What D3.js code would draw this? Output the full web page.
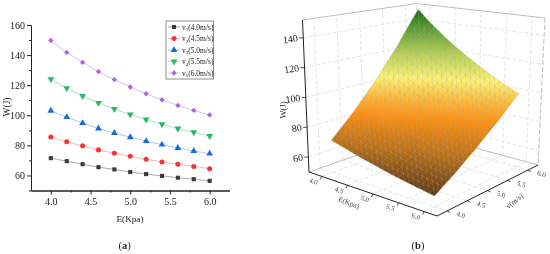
<!DOCTYPE html>
<html lang="en">
<head>
<meta charset="UTF-8">
<script src="https://cdn.jsdelivr.net/npm/d3@7"></script>
<style>
    html, body { margin: 0; padding: 0; background: #fff; }
    svg { display: block; filter: blur(0.3px); }
    text { font-family: "Liberation Serif", serif; fill: #222; }
</style>
</head>
<body>
<div id="chart"></div>
<script>
// values
const energy = [4.0, 4.2, 4.4, 4.6, 4.8, 5.0, 5.2, 5.4, 5.6, 5.8, 6.0];
const v1 = [71.5, 69.5, 67.5, 65.5, 64.0, 62.3, 60.9, 59.7, 58.5, 57.5, 56.4];
const v2 = [85.6, 82.4, 79.7, 77.0, 74.8, 72.7, 70.8, 69.0, 67.5, 66.0, 64.5];
const v3 = [103.0, 98.8, 94.8, 91.2, 88.2, 85.4, 82.8, 80.5, 78.3, 76.3, 74.5];
const v4 = [124.0, 118.0, 112.8, 108.2, 104.2, 100.5, 97.2, 94.0, 91.2, 88.7, 86.2];
const v5 = [149.7, 141.8, 135.2, 129.0, 123.7, 118.8, 114.3, 110.3, 106.5, 103.2, 100.2];
const speeds = [4.0, 4.5, 5.0, 5.5, 6.0];
const speedLabels = ["(4.0m/s)", "(4.5m/s)", "(5.0m/s)", "(5.5m/s)", "(6.0m/s)"];
const markColors = ["#3a3a3a", "#f5333a", "#1769e0", "#25b868", "#a763e6"];
const lineColors = ["#a8a8a8", "#fbb4b4", "#a9c8f5", "#a6e3c2", "#d9bdf5"];

const yTicks = [60, 80, 100, 120, 140, 160];
const yMinor = [50, 70, 90, 110, 130, 150];
const xTicks = [4.0, 4.5, 5.0, 5.5, 6.0];
const xMinor = [4.25, 4.75, 5.25, 5.75];
const zTicks = [60, 80, 100, 120, 140];

// surface colour map, W -> colour
const colorW = [56, 70, 85, 95, 106, 120, 138, 150];
const colorC = ["#57300a", "#b4690c", "#ff8a05", "#ffb732", "#fdf36e", "#b9d052", "#4d9424", "#05660c"];

const series = [v1, v2, v3, v4, v5];
const svg = d3.select("#chart").append("svg").attr("width", 550).attr("height", 254);

/*---------------- panel (a) ----------------*/
const x = d3.scaleLinear().domain([3.75, 6.25]).range([31, 229.5]);
const y = d3.scaleLinear().domain([50, 160]).range([190.5, 25]);
const gA = svg.append("g");

const styleAxis = g => {
    g.selectAll("path, line").attr("stroke", "#222").attr("stroke-width", 1);
    g.selectAll("text").attr("font-size", 10).attr("font-family", '"Liberation Serif", serif').attr("fill", "#222");
};
gA.append("g").attr("transform", "translate(31,0)")
    .call(d3.axisLeft(y).tickValues(yTicks).tickSize(4).tickSizeOuter(0).tickPadding(2)).call(styleAxis);
gA.append("g").attr("transform", "translate(31,0)")
    .call(d3.axisLeft(y).tickValues(yMinor).tickSize(2).tickSizeOuter(0).tickFormat("")).call(styleAxis);
gA.append("g").attr("transform", "translate(0,190.5)")
    .call(d3.axisBottom(x).tickValues(xTicks).tickSize(4).tickSizeOuter(0).tickPadding(3).tickFormat(d3.format(".1f"))).call(styleAxis);
gA.append("g").attr("transform", "translate(0,190.5)")
    .call(d3.axisBottom(x).tickValues(xMinor).tickSize(2).tickSizeOuter(0).tickFormat("")).call(styleAxis);

gA.append("text").attr("x", 130).attr("y", 221.5).attr("text-anchor", "middle").attr("font-size", 9.2).text("E(Kpa)");
gA.append("text").attr("transform", "translate(9.5,107) rotate(-90)").attr("text-anchor", "middle").attr("font-size", 9.5).text("W(J)");

const symbols = [
    { type: d3.symbolSquare, size: 17, rot: 0 },
    { type: d3.symbolCircle, size: 20, rot: 0 },
    { type: d3.symbolTriangle, size: 20, rot: 0 },
    { type: d3.symbolTriangle, size: 20, rot: 180 },
    { type: d3.symbolSquare, size: 14, rot: 45 }
];
const line = d3.line().x((d, i) => x(energy[i])).y(d => y(d)).curve(d3.curveCardinal.tension(0.3));

series.forEach((vals, k) => {
    gA.append("path").attr("d", line(vals)).attr("fill", "none").attr("stroke", lineColors[k]).attr("stroke-width", 1);
    gA.selectAll(null).data(vals).enter().append("path")
        .attr("d", d3.symbol().type(symbols[k].type).size(symbols[k].size))
        .attr("transform", (d, i) => `translate(${x(energy[i])},${y(d)}) rotate(${symbols[k].rot})`)
        .attr("fill", markColors[k]);
});

// legend
const legend = gA.append("g").attr("transform", "translate(166,21)");
legend.append("rect").attr("width", 47.5).attr("height", 58)
    .attr("fill", "#fff").attr("stroke", "#8a8a8a").attr("stroke-width", 1);
speeds.forEach((s, k) => {
    const row = legend.append("g").attr("transform", `translate(0,${6 + k * 11.5})`);
    row.append("line").attr("x1", 2).attr("x2", 14).attr("stroke", lineColors[k]);
    row.append("path").attr("d", d3.symbol().type(symbols[k].type).size(symbols[k].size))
        .attr("transform", `translate(8,0) rotate(${symbols[k].rot})`).attr("fill", markColors[k]);
    const t = row.append("text").attr("x", 16).attr("y", 2.5).attr("font-size", 7.5);
    t.append("tspan").text("v");
    t.append("tspan").attr("font-size", 5).attr("dy", 1.5).text(k + 1);
    t.append("tspan").attr("dy", -1.5).text(speedLabels[k]);
});

/*---------------- panel (b) ----------------*/
// box corners on screen: [E side][v side][W side]
const corner = {
    l0: [309, 172], f0: [437, 216], r0: [538, 165], b0: [420, 133],
    l1: [302.5, 20], f1: [438, 38], r1: [545, 18], b1: [416.7, 3.5]
};
const eUnit = d3.scaleLinear().domain([3.75, 6.25]).range([0, 1]);
const vUnit = d3.scaleLinear().domain([3.75, 6.25]).range([0, 1]);
const zUnit = d3.scaleLinear().domain([50, 152]).range([0, 1]);

// trilinear mapping from the box to the screen
const project = (e, v, w) => {
    const a = eUnit(e), b = vUnit(v), c = zUnit(w);
    const mix = i => {
        const low = (1 - a) * (1 - b) * corner.l0[i] + a * (1 - b) * corner.f0[i] + a * b * corner.r0[i] + (1 - a) * b * corner.b0[i];
        const high = (1 - a) * (1 - b) * corner.l1[i] + a * (1 - b) * corner.f1[i] + a * b * corner.r1[i] + (1 - a) * b * corner.b1[i];
        return (1 - c) * low + c * high;
    };
    return [mix(0), mix(1)];
};
const eMin = 3.75, eMax = 6.25, vMin = 3.75, vMax = 6.25, zMin = 50, zMax = 152;
const path3 = d3.line();
const gB = svg.append("g");

const seg = (a, b, color, width, dash) => gB.append("path").attr("d", path3([a, b])).attr("fill", "none")
    .attr("stroke", color).attr("stroke-width", width).attr("stroke-dasharray", dash || null);

// walls and floor grid
const gridColor = "#dedede";
zTicks.forEach(w => {
    seg(project(eMin, vMin, w), project(eMin, vMax, w), gridColor, 0.8, "4,2");
    seg(project(eMin, vMax, w), project(eMax, vMax, w), gridColor, 0.8, "4,2");
});
xTicks.forEach(t => {
    seg(project(t, vMin, zMin), project(t, vMax, zMin), gridColor, 0.8, "4,2");
    seg(project(t, vMax, zMin), project(t, vMax, zMax), gridColor, 0.8, "4,2");
    seg(project(eMin, t, zMin), project(eMax, t, zMin), gridColor, 0.8, "4,2");
    seg(project(eMin, t, zMin), project(eMin, t, zMax), gridColor, 0.8, "4,2");
});
// back edges of the box
const edgeColor = "#bdbdbd";
seg(corner.l1, corner.b1, edgeColor, 1);
seg(corner.b1, corner.r1, edgeColor, 1);
seg(corner.r1, corner.r0, edgeColor, 1, "5,2");
seg(corner.b1, corner.b0, gridColor, 1);
seg(corner.l0, corner.b0, edgeColor, 1);
seg(corner.b0, corner.r0, edgeColor, 1);

// surface, sampled from the five curves
const rowAt = i => d3.scaleLinear().domain(speeds).range(series.map(s => s[i]));
const columns = energy.map((e, i) => rowAt(i));
const surfaceW = (e, v) => d3.scaleLinear().domain(energy).range(columns.map(c => c(v)))(e);
const color = d3.scaleLinear().domain(colorW).range(colorC).clamp(true);

const fineSteps = d3.range(0, 61).map(i => i / 60);
const meshSteps = d3.range(0, 21).map(i => i / 20);
const eAt = d3.scaleLinear().range([4, 6]);
const vAt = d3.scaleLinear().range([4, 6]);
const surf = (p, q) => project(eAt(p), vAt(q), surfaceW(eAt(p), vAt(q)));

const gSurf = gB.append("g");
for (let i = 0; i < 60; i++) {
    for (let j = 59; j >= 0; j--) {
        const p0 = fineSteps[i], p1 = fineSteps[i + 1], q0 = fineSteps[j], q1 = fineSteps[j + 1];
        const c = color(surfaceW(eAt((p0 + p1) / 2), vAt((q0 + q1) / 2)));
        gSurf.append("path")
            .attr("d", path3([surf(p0, q0), surf(p1, q0), surf(p1, q1), surf(p0, q1)]) + "Z")
            .attr("fill", c).attr("stroke", c).attr("stroke-width", 0.5);
    }
}
// mesh over the surface
const meshLine = pts => gSurf.append("path").attr("d", path3(pts)).attr("fill", "none")
    .attr("stroke", "#a8a8a8").attr("stroke-opacity", 0.5).attr("stroke-width", 0.5);
meshSteps.forEach(m => {
    meshLine(fineSteps.map(f => surf(m, f)));
    meshLine(fineSteps.map(f => surf(f, m)));
});
for (let i = 0; i < 20; i++) {
    for (let j = 0; j < 20; j++) {
        meshLine([surf(meshSteps[i], meshSteps[j + 1]), surf(meshSteps[i + 1], meshSteps[j])]);
    }
}

// front axes
const axisColor = "#222";
seg(corner.l0, corner.f0, axisColor, 1);
seg(corner.f0, corner.r0, axisColor, 1);
seg(corner.l0, corner.l1, axisColor, 1);

xTicks.forEach(t => {
    const pe = project(t, vMin, zMin), pv = project(eMax, t, zMin);
    seg(pe, [pe[0] - 1.5, pe[1] + 3], axisColor, 0.8);
    seg(pv, [pv[0] + 3, pv[1] + 1.5], axisColor, 0.8);
    gB.append("text").attr("transform", `translate(${pe[0] - 9},${pe[1] + 7}) rotate(20)`)
        .attr("text-anchor", "middle").attr("font-size", 7).style("fill", "#444").text(t.toFixed(1));
    gB.append("text").attr("transform", `translate(${pv[0] + 13},${pv[1] + 6}) rotate(18)`)
        .attr("text-anchor", "middle").attr("font-size", 7).style("fill", "#444").text(t.toFixed(1));
});
zTicks.forEach(w => {
    const p = project(eMin, vMin, w);
    seg(p, [p[0] - 4, p[1]], axisColor, 0.8);
    gB.append("text").attr("transform", `translate(${p[0] - 5},${p[1] + 3.5}) rotate(-8)`)
        .attr("text-anchor", "end").attr("font-size", 10).text(w);
});
gB.append("text").attr("transform", "translate(348,205) rotate(21)").attr("text-anchor", "middle").attr("font-size", 7.5).style("fill", "#444").text("E(Kpa)");
gB.append("text").attr("transform", "translate(516,203) rotate(-38)").attr("text-anchor", "middle").attr("font-size", 7.5).style("fill", "#444").text("v(m/s)");
gB.append("text").attr("transform", "translate(286,110) rotate(-90)").attr("text-anchor", "middle").attr("font-size", 8.5).text("W(J)");

// captions
[["a", 124.5], ["b", 418]].forEach(([c, cx]) => {
    const t = svg.append("text").attr("x", cx).attr("y", 249).attr("text-anchor", "middle").attr("font-size", 10.5).attr("font-weight", "bold");
    t.append("tspan").attr("font-weight", "normal").text("(");
    t.append("tspan").text(c);
    t.append("tspan").attr("font-weight", "normal").text(")");
});
</script>
</body>
</html>
